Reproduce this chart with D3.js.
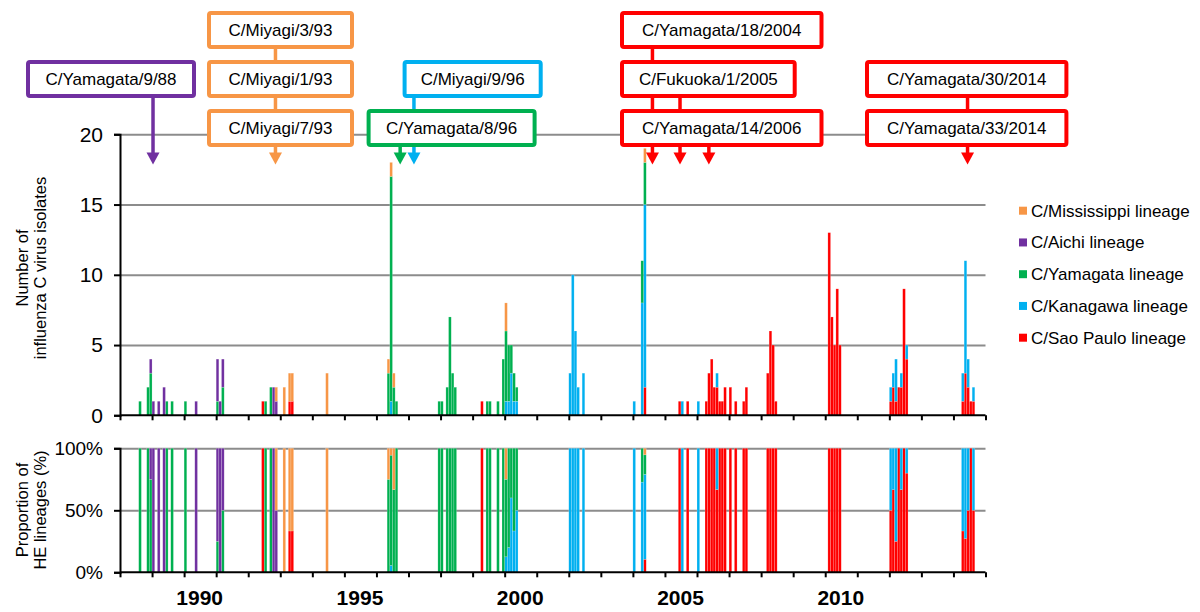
<!DOCTYPE html>
<html><head><meta charset="utf-8">
<script src="https://cdn.jsdelivr.net/npm/d3@7"></script>
<style>body{margin:0;background:#fff} svg{font-family:"Liberation Sans",Arial,sans-serif}</style>
</head><body><svg width="1200" height="612"></svg>
<script>
// ---------------- data ----------------
const months = ["1988-08","1988-11","1988-12","1989-01","1989-03","1989-05","1989-06","1989-08","1990-01","1990-05",
"1991-01","1991-02","1991-03","1992-06","1992-07","1992-09","1992-10","1992-11","1993-02","1993-04","1993-05","1994-06",
"1996-05","1996-06","1996-07","1996-08","1997-12","1998-01","1998-03","1998-04","1998-05","1998-06",
"1999-04","1999-06","1999-07","1999-10","1999-12","2000-01","2000-02","2000-03","2000-04","2000-05",
"2002-01","2002-02","2002-03","2002-04","2002-06","2004-01","2004-04","2004-05",
"2005-06","2005-07","2005-09","2006-01","2006-04","2006-05","2006-06","2006-07","2006-08","2006-09","2006-10","2006-11",
"2007-01","2007-03","2007-06","2007-07","2008-03","2008-04","2008-05","2008-06",
"2010-02","2010-03","2010-04","2010-05","2010-06",
"2012-01","2012-02","2012-03","2012-04","2012-05","2012-06","2012-07",
"2014-04","2014-05","2014-06","2014-07","2014-08"];
const saoPaulo    = [0,0,0,0,0,0,0,0,0,0, 0,0,0,1,0,0,0,0,0,1,1,0, 0,0,0,0,0,0,0,0,0,0, 1,0,0,0,0,0,0,0,0,0, 0,0,0,0,0,0,0,2, 1,0,1,0,1,3,4,2,2,1,1,2, 2,1,1,2,3,6,5,1, 13,7,5,9,5, 1,2,1,2,2,9,4, 1,3,2,1,1];
const kanagawa    = [0,0,0,0,0,0,0,0,0,0, 0,0,0,0,0,0,0,0,0,0,0,0, 0,1,0,0,0,0,0,0,0,0, 0,0,0,0,0,1,1,3,1,1, 3,10,6,2,3,1,8,13, 0,1,0,1,0,0,0,0,1,0,0,0, 0,0,0,0,0,0,0,0, 0,0,0,0,0, 1,1,3,0,1,0,1, 2,8,2,0,1];
const yamagata    = [1,2,3,0,0,0,1,1,1,0, 1,0,2,0,1,2,0,0,0,0,0,0, 3,16,2,1,1,1,2,7,3,2, 0,1,1,1,4,5,4,2,2,1, 0,0,0,0,0,0,3,3, 0,0,0,0,0,0,0,0,0,0,0,0, 0,0,0,0,0,0,0,0, 0,0,0,0,0, 0,0,0,0,0,0,0, 0,0,0,0,0];
const aichi       = [0,0,1,1,1,2,0,0,0,1, 3,1,2,0,0,0,2,1,0,0,0,0, 0,0,0,0,0,0,0,0,0,0, 0,0,0,0,0,0,0,0,0,0, 0,0,0,0,0,0,0,0, 0,0,0,0,0,0,0,0,0,0,0,0, 0,0,0,0,0,0,0,0, 0,0,0,0,0, 0,0,0,0,0,0,0, 0,0,0,0,0];
const mississippi = [0,0,0,0,0,0,0,0,0,0, 0,0,0,0,0,0,0,1,2,2,2,3, 1,1,1,0,0,0,0,0,0,0, 0,0,0,0,0,2,0,0,0,0, 0,0,0,0,0,0,0,1, 0,0,0,0,0,0,0,0,0,0,0,0, 0,0,0,0,0,0,0,0, 0,0,0,0,0, 0,0,0,0,0,0,0, 0,0,0,0,0];

const lineageNames = ["C/Sao Paulo lineage","C/Kanagawa lineage","C/Yamagata lineage","C/Aichi lineage","C/Mississippi lineage"];
const lineageColors = ["#FF0000","#00B0F0","#00B050","#7030A0","#F79646"];
const countTicks = [0,5,10,15,20];
const pctTicks = [0,0.5,1];
const yearTicks = d3.range(1988, 2016);
const yearLabels = [1990,1995,2000,2005,2010];

// strain annotations
const strainLabels = ["C/Yamagata/9/88","C/Miyagi/3/93","C/Miyagi/1/93","C/Miyagi/7/93","C/Miyagi/9/96","C/Yamagata/8/96",
  "C/Yamagata/18/2004","C/Fukuoka/1/2005","C/Yamagata/14/2006","C/Yamagata/30/2014","C/Yamagata/33/2014"];
const strainLineage = [3,4,4,4,1,2,0,0,0,0,0];
const arrowYears = [1989.03,1992.85,1996.74,1997.17,2004.61,2005.47,2006.37,2014.44];
const arrowLineage = [3,4,2,1,0,0,0,0];

// ---------------- layout ----------------
const L = {x0:120, x1:985.5, cTop:134.3, cBot:415.3, pTop:448.3, pBot:572.3};
const boxLayout = [ // [left, right, row]
  [26,196,1],[207,354,0],[207,354,1],[207,354,2],[402.6,542.7,1],[366.6,536.6,2],
  [620,823.5,0],[620,796.7,1],[620,823.5,2],[865,1068.4,1],[865,1068.4,2]];
const rowTop = [11,60,109], boxH = 38;
const arrowFromRow = [1,0,2,1,0,1,2,1];
const arrowTipY = 164.5;

const svg = d3.select("svg");
const x = d3.scaleLinear().domain([1988,2015]).range([L.x0,L.x1]);
const yC = d3.scaleLinear().domain([0,20]).range([L.cBot,L.cTop]);
const yP = d3.scaleLinear().domain([0,1]).range([L.pBot,L.pTop]);
const keys = ["S","K","Y","A","M"];
const rows = months.map((m,i)=>({t:+m.slice(0,4)+(+m.slice(5,7)-1)/12,
  S:saoPaulo[i],K:kanagawa[i],Y:yamagata[i],A:aichi[i],M:mississippi[i]}));
const stC = d3.stack().keys(keys)(rows);
const stP = d3.stack().keys(keys).offset(d3.stackOffsetExpand)(rows);
const bw = x(1988+1/12)-x(1988);

function grid(scale, vals){
  const g = svg.append("g").attr("transform",`translate(${L.x0},0)`)
    .call(d3.axisLeft(scale).tickValues(vals).tickSize(-(L.x1-L.x0)).tickFormat(""));
  g.select(".domain").remove();
  g.selectAll("line").attr("stroke","#8c8c8c").attr("stroke-width",2);
}
grid(yC,[5,10,15,20]);
grid(yP,[0.5,1]);

function bars(stack, y){
  svg.append("g").selectAll("g").data(stack).join("g")
    .attr("fill",(d,i)=>lineageColors[i])
    .selectAll("rect").data(d=>d.filter(p=>p[1]-p[0]>0)).join("rect")
    .attr("x",d=>x(d.data.t)).attr("width",bw)
    .attr("y",d=>y(d[1])).attr("height",d=>y(d[0])-y(d[1]))
    .attr("stroke","#fff").attr("stroke-opacity",0.35).attr("stroke-width",0.5);
}
bars(stC,yC);
bars(stP,yP);

function yaxis(scale, vals, fmt, fs){
  const g = svg.append("g").attr("transform",`translate(${L.x0},0)`)
    .call(d3.axisLeft(scale).tickValues(vals).tickSize(6).tickPadding(11).tickFormat(fmt));
  g.selectAll("path,line").attr("stroke","#000").attr("stroke-width",2);
  g.selectAll("text").attr("font-size",fs).attr("fill","#000").attr("font-family","Liberation Sans, Arial");
}
yaxis(yC,countTicks,d3.format("d"),21);
yaxis(yP,pctTicks,d3.format(".0%"),19);

function xaxis(yv){
  const g = svg.append("g").attr("transform",`translate(0,${yv})`)
    .call(d3.axisBottom(x).tickValues(yearTicks).tickSize(5).tickFormat(""));
  g.selectAll("path,line").attr("stroke","#000").attr("stroke-width",2);
  g.select(".domain").attr("d",`M${L.x0},0H${L.x1}`);
}
xaxis(L.cBot); xaxis(L.pBot);
const lab = svg.append("g").attr("transform",`translate(0,${L.pBot})`)
  .call(d3.axisBottom(x).tickValues(yearLabels.map(v=>v+0.47)).tickSize(0).tickPadding(18).tickFormat(d=>Math.floor(d)));
lab.select(".domain").remove();
lab.selectAll("text").attr("font-size",21).attr("font-weight","bold").attr("fill","#000").attr("font-family","Liberation Sans, Arial");

// axis titles
function ytitle(lines, cy, xs, fs){
  lines.forEach((t,i)=>svg.append("text").attr("transform",`translate(${xs[i]},${cy}) rotate(-90)`)
    .attr("text-anchor","middle").attr("font-size",fs).text(t));
}
ytitle(["Number of","influenza C virus isolates"], 268, [28,46], 16.5);
ytitle(["Proportion of","HE lineages (%)"], 510, [28,46], 16.5);

// legend
const legendOrder = [4,3,2,1,0];
const lg = svg.append("g");
legendOrder.forEach((k,i)=>{
  const yy = 210.7 + i*31.75;
  lg.append("rect").attr("x",1019).attr("y",yy-4).attr("width",8).attr("height",8).attr("fill",lineageColors[k]);
  lg.append("text").attr("x",1031).attr("y",yy).attr("dy","0.35em").attr("font-size",17).text(lineageNames[k]);
});

// annotations: connector lines, boxes, arrowheads
const ag = svg.append("g");
arrowYears.forEach((yr,i)=>{
  const xx = x(yr);
  ag.append("line").attr("x1",xx).attr("x2",xx).attr("y1",rowTop[arrowFromRow[i]]+boxH-2).attr("y2",arrowTipY-8)
    .attr("stroke",lineageColors[arrowLineage[i]]).attr("stroke-width",3.5);
});
strainLabels.forEach((s,i)=>{
  const [l,r,row] = boxLayout[i];
  ag.append("rect").attr("x",l+2).attr("y",rowTop[row]+2).attr("width",r-l-4).attr("height",boxH-4)
    .attr("rx",2).attr("fill","#fff").attr("stroke",lineageColors[strainLineage[i]]).attr("stroke-width",4);
  ag.append("text").attr("x",(l+r)/2).attr("y",rowTop[row]+boxH/2).attr("dy","0.35em")
    .attr("text-anchor","middle").attr("font-size",17).text(s);
});
arrowYears.forEach((yr,i)=>{
  const xx = x(yr);
  ag.append("path").attr("d",`M${xx-6.5},${arrowTipY-12}L${xx+6.5},${arrowTipY-12}L${xx},${arrowTipY}Z`)
    .attr("fill",lineageColors[arrowLineage[i]]);
});
</script></body></html>
